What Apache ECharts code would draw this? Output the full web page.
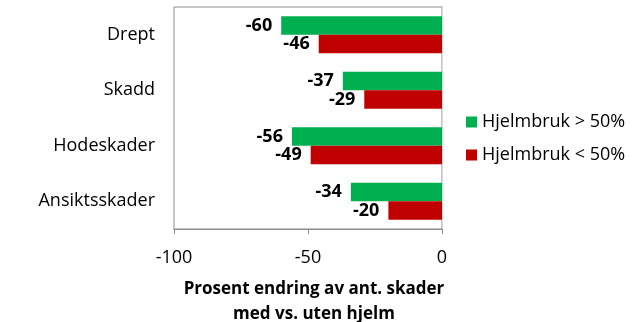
<!DOCTYPE html>
<html>
<head>
<meta charset="utf-8">
<style>
  html, body { margin: 0; padding: 0; background: #fff; }
  #chart { width: 634px; height: 322px; }
</style>
<script src="https://cdn.jsdelivr.net/npm/echarts@6/dist/echarts.min.js"></script>
</head>
<body>
<div id="chart"></div>
<script>
// Injury categories, top to bottom
const categories = ['Drept', 'Skadd', 'Hodeskader', 'Ansiktsskader'];
// Percent change in number of injuries, with vs. without helmet
const highUse = [-60, -37, -56, -34];   // Hjelmbruk > 50%
const lowUse  = [-46, -29, -49, -20];   // Hjelmbruk < 50%
const seriesNames = ['Hjelmbruk > 50%', 'Hjelmbruk < 50%'];
const xTicks = { min: -100, max: 0, interval: 50 };
const axisTitle = 'Prosent endring av ant. skader\nmed vs. uten hjelm';

const FONT = '"Open Sans", "Noto Sans", sans-serif';

const chart = echarts.init(document.getElementById('chart'), null, { renderer: 'canvas' });

const valueLabel = {
  show: true,
  position: 'left',
  distance: 9,
  color: '#000',
  fontFamily: FONT,
  fontWeight: 'bold',
  fontSize: 18
};

chart.setOption({
  animation: false,
  grid: {
    left: 174, right: 192, top: 7, bottom: 93,
    containLabel: false,
    outerBoundsMode: 'none',
    show: true, borderColor: '#8c8c8c', borderWidth: 1
  },
  legend: {
    orient: 'vertical',
    left: 461, top: 108,
    itemWidth: 11, itemHeight: 11, itemGap: 15,
    icon: 'rect',
    textStyle: { fontFamily: FONT, fontSize: 18, color: '#000' },
    data: seriesNames
  },
  xAxis: {
    type: 'value',
    min: xTicks.min, max: xTicks.max, interval: xTicks.interval,
    axisLine: { show: true, lineStyle: { color: '#8c8c8c' } },
    axisTick: { show: true, length: 5, lineStyle: { color: '#8c8c8c' } },
    axisLabel: { fontFamily: FONT, fontSize: 18, color: '#000', margin: 20 },
    splitLine: { show: false },
    name: axisTitle,
    nameLocation: 'middle',
    nameGap: 48,
    nameTextStyle: {
      fontFamily: FONT, fontSize: 17, fontWeight: 'bold', color: '#000',
      lineHeight: 25, verticalAlign: 'top', padding: [0, 0, 0, 12]
    }
  },
  yAxis: [{
    type: 'category',
    data: categories,
    inverse: true,
    position: 'left',
    axisLine: { show: true, lineStyle: { color: '#8c8c8c' } },
    axisTick: { show: false },
    axisLabel: { fontFamily: FONT, fontSize: 18, color: '#000', margin: 19 }
  }, {
    type: 'category',
    data: categories,
    inverse: true,
    position: 'right',
    axisLine: { show: true, lineStyle: { color: '#d9d9d9' } },
    axisTick: { show: false },
    axisLabel: { show: false }
  }],
  series: [{
    name: seriesNames[0],
    type: 'bar',
    data: highUse,
    itemStyle: { color: '#00b050' },
    barGap: '0%',
    barCategoryGap: '33%',
    label: valueLabel
  }, {
    name: seriesNames[1],
    type: 'bar',
    data: lowUse,
    itemStyle: { color: '#c00000' },
    barGap: '0%',
    barCategoryGap: '33%',
    label: valueLabel
  }]
});
</script>
</body>
</html>
